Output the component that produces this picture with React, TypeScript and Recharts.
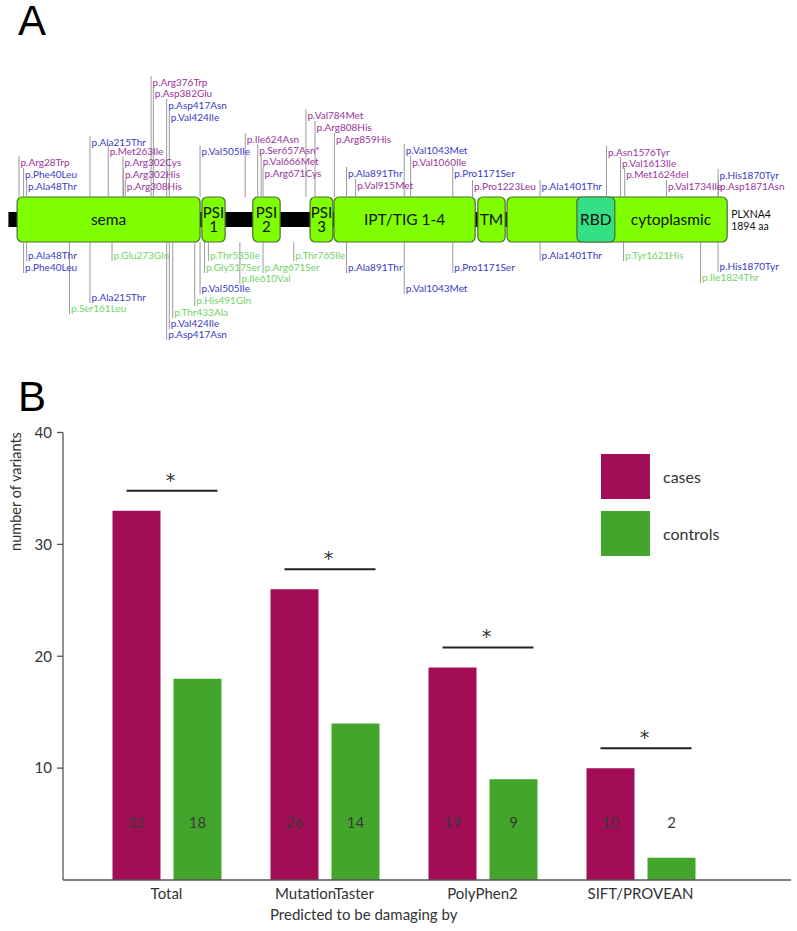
import React from 'react';
import {
  ComposedChart,
  BarChart,
  Bar,
  XAxis,
  YAxis,
  Scatter,
  ReferenceArea,
  ReferenceLine,
  LabelList,
  Legend,
  Label,
} from 'recharts';

// ---------------- Panel A data ----------------
const PROTEIN_LENGTH = 1894;
const AXIS_MAX = 2000;
const domainLabels = ['sema', 'PSI\n1', 'PSI\n2', 'PSI\n3', 'IPT/TIG 1-4', 'TM', 'cytoplasmic', 'RBD'];
const domainStart = [23, 510, 644, 795, 858, 1237, 1314, 1498];
const domainEnd = [505, 571, 716, 855, 1230, 1309, 1894, 1598];
const domainLabelFrom = [23, 510, 644, 795, 858, 1237, 1598, 1498];

// variants seen in cases (drawn above the protein)
const caseNames = [
  'p.Arg28Trp', 'p.Phe40Leu', 'p.Ala48Thr', 'p.Ala215Thr', 'p.Met263Ile', 'p.Arg302Cys',
  'p.Arg302His', 'p.Arg308His', 'p.Arg376Trp', 'p.Asp382Glu', 'p.Asp417Asn', 'p.Val424Ile',
  'p.Val505Ile', 'p.Ile624Asn', 'p.Ser657Asn*', 'p.Val666Met', 'p.Arg671Cys', 'p.Val784Met',
  'p.Arg808His', 'p.Arg859His', 'p.Ala891Thr', 'p.Val915Met', 'p.Val1043Met', 'p.Val1060Ile',
  'p.Pro1171Ser', 'p.Pro1223Leu', 'p.Ala1401Thr', 'p.Asn1576Tyr', 'p.Val1613Ile', 'p.Met1624del',
  'p.Val1734Ile', 'p.His1870Tyr', 'p.Asp1871Asn',
];
const casePositions = [
  28, 40, 48, 215, 263, 302, 303, 308, 376, 382, 417, 424, 505, 624, 657, 666, 671, 784, 808, 859,
  891, 915, 1043, 1060, 1171, 1223, 1401, 1576, 1613, 1624, 1734, 1870, 1871,
];
const caseShared = [
  false, true, true, true, false, false, false, false, false, false, true, true, true, false, false,
  false, false, false, false, false, true, false, true, false, true, false, true, false, false, false,
  false, true, false,
];
// layout: label row (y in px) for each case variant
const caseLabelY = [
  162, 174, 186, 142, 151, 162, 174, 186, 82, 93, 105, 117, 151, 139, 150, 161, 173, 115, 127, 139,
  173, 185, 150, 162, 173, 186, 186, 152, 163, 174, 186, 175, 186,
];

// variants seen in controls (drawn below the protein)
const controlNames = [
  'p.Ala48Thr', 'p.Phe40Leu', 'p.Ser161Leu', 'p.Ala215Thr', 'p.Glu273Gln', 'p.Asp417Asn',
  'p.Val424Ile', 'p.Thr433Ala', 'p.His491Gln', 'p.Val505Ile', 'p.Gly517Ser', 'p.Thr535Ile',
  'p.Ile610Val', 'p.Arg671Ser', 'p.Thr765Ile', 'p.Ala891Thr', 'p.Val1043Met', 'p.Pro1171Ser',
  'p.Ala1401Thr', 'p.Tyr1621His', 'p.Ile1824Thr', 'p.His1870Tyr',
];
const controlPositions = [
  48, 40, 161, 215, 273, 417, 424, 433, 491, 505, 517, 527, 610, 671, 752, 891, 1043, 1171, 1401,
  1621, 1824, 1870,
];
const controlShared = [
  true, true, false, true, false, true, true, false, false, true, false, false, false, false, false,
  true, true, true, true, false, false, true,
];
const controlLabelY = [
  255, 267, 308, 297, 255, 334, 323, 312, 300, 288, 267, 255, 278, 267, 255, 267, 288, 267, 255,
  255, 277, 266,
];

// ---------------- Panel B data ----------------
const categories = ['Total', 'MutationTaster', 'PolyPhen2', 'SIFT/PROVEAN'];
const casesValues = [33, 26, 19, 10];
const controlsValues = [18, 14, 9, 2];
const significance = ['*', '*', '*', '*'];
const yTicks = [10, 20, 30, 40];

// ---------------- styles ----------------
const CASE_ONLY = '#9b329b';
const SHARED = '#3a3ac6';
const CONTROL_ONLY = '#72d268';
const CASES_COLOR = '#a30d55';
const CONTROLS_COLOR = '#44a52c';
const DOMAIN_FILL = '#80ff00';
const RBD_FILL = '#34df86';
const DOMAIN_STROKE = '#4a6e34';
const FONT = 'Lato, "Open Sans", sans-serif';

const A_HEIGHT = 400;
const BOX_TOP = 197;
const BOX_BOTTOM = 242;
const LINE_TOP = 212;
const LINE_BOTTOM = 227;

const topData = caseNames.map((name, i) => ({
  name,
  pos: casePositions[i],
  ly: caseLabelY[i],
  color: caseShared[i] ? SHARED : CASE_ONLY,
}));
const bottomData = controlNames.map((name, i) => ({
  name,
  pos: controlPositions[i],
  ly: controlLabelY[i],
  color: controlShared[i] ? SHARED : CONTROL_ONLY,
}));

const barData = categories.map((c, i) => ({
  name: c,
  cases: casesValues[i],
  controls: controlsValues[i],
  sig: significance[i],
}));

const VariantText = (props: any) => {
  const { cx, cy, payload } = props;
  return (
    <text x={cx + 1.5} y={cy} dy="0.36em" fontSize={10} fontFamily={FONT} fill={payload.color}>
      {payload.name}
    </text>
  );
};

const domainBox = (fill: string) => (p: any) => (
  <rect
    x={p.x}
    y={p.y}
    width={p.width}
    height={p.height}
    rx={5}
    ry={5}
    fill={fill}
    stroke={DOMAIN_STROKE}
    strokeWidth={1.2}
  />
);

const domainText = (label: string) => (p: any) => {
  const lines = label.split('\n');
  const cx = p.x + p.width / 2;
  const cy = p.y + p.height / 2;
  const lh = 14.5;
  return (
    <text x={cx} textAnchor="middle" fontSize={lines.length > 1 ? 15 : 15.5} fontFamily={FONT} fill="#111">
      {lines.map((l, k) => (
        <tspan key={k} x={cx} y={cy + (k - (lines.length - 1) / 2) * lh} dy="0.36em">
          {l}
        </tspan>
      ))}
    </text>
  );
};

const endText = (p: any) => (
  <text x={p.x + 4} fontSize={10.5} fontFamily={FONT} fill="#111">
    <tspan x={p.x + 4} y={p.y + 17} dy="0.36em">PLXNA4</tspan>
    <tspan x={p.x + 4} y={p.y + 29} dy="0.36em">1894 aa</tspan>
  </text>
);

const ValueLabel = (p: any) => (
  <text
    x={p.x + p.width / 2}
    y={p.y + p.height - 57}
    dy="0.36em"
    textAnchor="middle"
    fontSize={15}
    fontFamily={FONT}
    fill="#3a3a3a"
  >
    {p.value}
  </text>
);

const SigMark = (p: any) => {
  const ly = p.y - 20;
  return (
    <g>
      <line x1={p.x + 14} x2={p.x + 105} y1={ly} y2={ly} stroke="#222" strokeWidth={2} />
      <text
        x={p.x + 58}
        y={ly - 4}
        textAnchor="middle"
        fontSize={19}
        fontFamily='"DejaVu Sans", sans-serif'
        fill="#333"
      >
        {significance[p.index] ?? '*'}
      </text>
    </g>
  );
};

const LegendBox = () => (
  <div style={{ position: 'relative', width: 170, height: 110, fontFamily: FONT }}>
    {[
      { label: 'cases', color: CASES_COLOR },
      { label: 'controls', color: CONTROLS_COLOR },
    ].map((it, k) => (
      <div key={it.label} style={{ position: 'absolute', left: 0, top: k * 57, height: 45, width: 170 }}>
        <div style={{ position: 'absolute', left: 0, top: 0, width: 49, height: 45, background: it.color }} />
        <div
          style={{
            position: 'absolute',
            left: 62,
            top: 0,
            height: 45,
            lineHeight: '45px',
            fontSize: 16,
            color: '#333',
          }}
        >
          {it.label}
        </div>
      </div>
    ))}
  </div>
);

export default function App() {
  return (
    <div
      style={{
        position: 'absolute',
        left: 0,
        top: 0,
        width: 797,
        height: 931,
        background: '#fff',
        overflow: 'hidden',
      }}
    >
      {/* Panel A */}
      <div style={{ position: 'absolute', left: 0, top: 0 }}>
        <ComposedChart
          width={797}
          height={A_HEIGHT}
          margin={{ top: 0, right: 29.6, bottom: 0, left: 8.4 }}
        >
          <XAxis type="number" dataKey="pos" domain={[0, AXIS_MAX]} hide />
          <YAxis type="number" dataKey="ly" domain={[0, A_HEIGHT]} reversed hide />
          <ReferenceArea
            x1={0}
            x2={PROTEIN_LENGTH}
            y1={LINE_TOP}
            y2={LINE_BOTTOM}
            fill="#000"
            fillOpacity={1}
            ifOverflow="visible"
          />
          {domainLabels.map((d, i) => (
            <ReferenceArea
              key={'box' + i}
              x1={domainStart[i]}
              x2={domainEnd[i]}
              y1={BOX_TOP}
              y2={BOX_BOTTOM}
              ifOverflow="visible"
              shape={domainBox(d === 'RBD' ? RBD_FILL : DOMAIN_FILL)}
            />
          ))}
          {domainLabels.map((d, i) => (
            <ReferenceArea
              key={'lab' + i}
              x1={domainLabelFrom[i]}
              x2={domainEnd[i]}
              y1={BOX_TOP}
              y2={BOX_BOTTOM}
              ifOverflow="visible"
              shape={domainText(d)}
            />
          ))}
          <ReferenceArea
            x1={PROTEIN_LENGTH}
            x2={AXIS_MAX}
            y1={BOX_TOP}
            y2={BOX_BOTTOM}
            ifOverflow="visible"
            shape={endText}
          />
          {topData.map((v, i) => (
            <ReferenceLine
              key={'tl' + i}
              segment={[
                { x: v.pos, y: v.ly - 6 },
                { x: v.pos, y: BOX_TOP },
              ]}
              stroke="#9a9a9a"
              strokeWidth={1}
              ifOverflow="visible"
            />
          ))}
          {bottomData.map((v, i) => (
            <ReferenceLine
              key={'bl' + i}
              segment={[
                { x: v.pos, y: BOX_BOTTOM },
                { x: v.pos, y: v.ly + 6 },
              ]}
              stroke="#9a9a9a"
              strokeWidth={1}
              ifOverflow="visible"
            />
          ))}
          <Scatter data={topData} shape={VariantText} isAnimationActive={false} />
          <Scatter data={bottomData} shape={VariantText} isAnimationActive={false} />
        </ComposedChart>
      </div>

      {/* Panel B */}
      <div style={{ position: 'absolute', left: 0, top: 400 }}>
        <BarChart
          width={797}
          height={531}
          data={barData}
          margin={{ top: 32.5, right: 6, bottom: 21, left: 0 }}
          barSize={48}
          barGap={13}
        >
          <XAxis
            dataKey="name"
            height={30}
            padding={{ left: 24.5, right: 71.5 }}
            tickLine={false}
            axisLine={{ stroke: '#555', strokeWidth: 1.3 }}
            tick={{ fontSize: 15, fill: '#333', fontFamily: FONT }}
            interval={0}
          >
            <Label
              content={() => (
                <text x={270} y={520} fontSize={15} fontFamily={FONT} fill="#333">
                  Predicted to be damaging by
                </text>
              )}
            />
          </XAxis>
          <YAxis
            type="number"
            domain={[0, 40]}
            ticks={yTicks}
            width={63}
            tickSize={6}
            tickMargin={5}
            tickLine={{ stroke: '#555', strokeWidth: 1.3 }}
            axisLine={{ stroke: '#555', strokeWidth: 1.3 }}
            tick={{ fontSize: 15, fill: '#333', fontFamily: FONT }}
          >
            <Label
              content={() => (
                <text
                  x={16}
                  y={91.5}
                  transform="rotate(-90, 16, 91.5)"
                  textAnchor="middle"
                  dy="0.36em"
                  fontSize={14.5}
                  fontFamily={FONT}
                  fill="#333"
                >
                  number of variants
                </text>
              )}
            />
          </YAxis>
          <Legend
            layout="horizontal"
            align="center"
            verticalAlign="middle"
            wrapperStyle={{ position: 'absolute', top: 54, left: 601, width: 170, height: 110 }}
            content={() => <LegendBox />}
          />
          <Bar dataKey="cases" name="cases" fill={CASES_COLOR} isAnimationActive={false}>
            <LabelList dataKey="cases" content={ValueLabel} />
            <LabelList dataKey="sig" content={SigMark} />
          </Bar>
          <Bar dataKey="controls" name="controls" fill={CONTROLS_COLOR} isAnimationActive={false}>
            <LabelList dataKey="controls" content={ValueLabel} />
          </Bar>
        </BarChart>
      </div>

      <div
        style={{
          position: 'absolute',
          left: 18,
          top: 0,
          fontFamily: '"Liberation Sans", Arial, sans-serif',
          fontSize: 42,
          lineHeight: 1,
          color: '#000',
        }}
      >
        A
      </div>
      <div
        style={{
          position: 'absolute',
          left: 18,
          top: 376,
          fontFamily: '"Liberation Sans", Arial, sans-serif',
          fontSize: 42,
          lineHeight: 1,
          color: '#000',
        }}
      >
        B
      </div>
    </div>
  );
}
